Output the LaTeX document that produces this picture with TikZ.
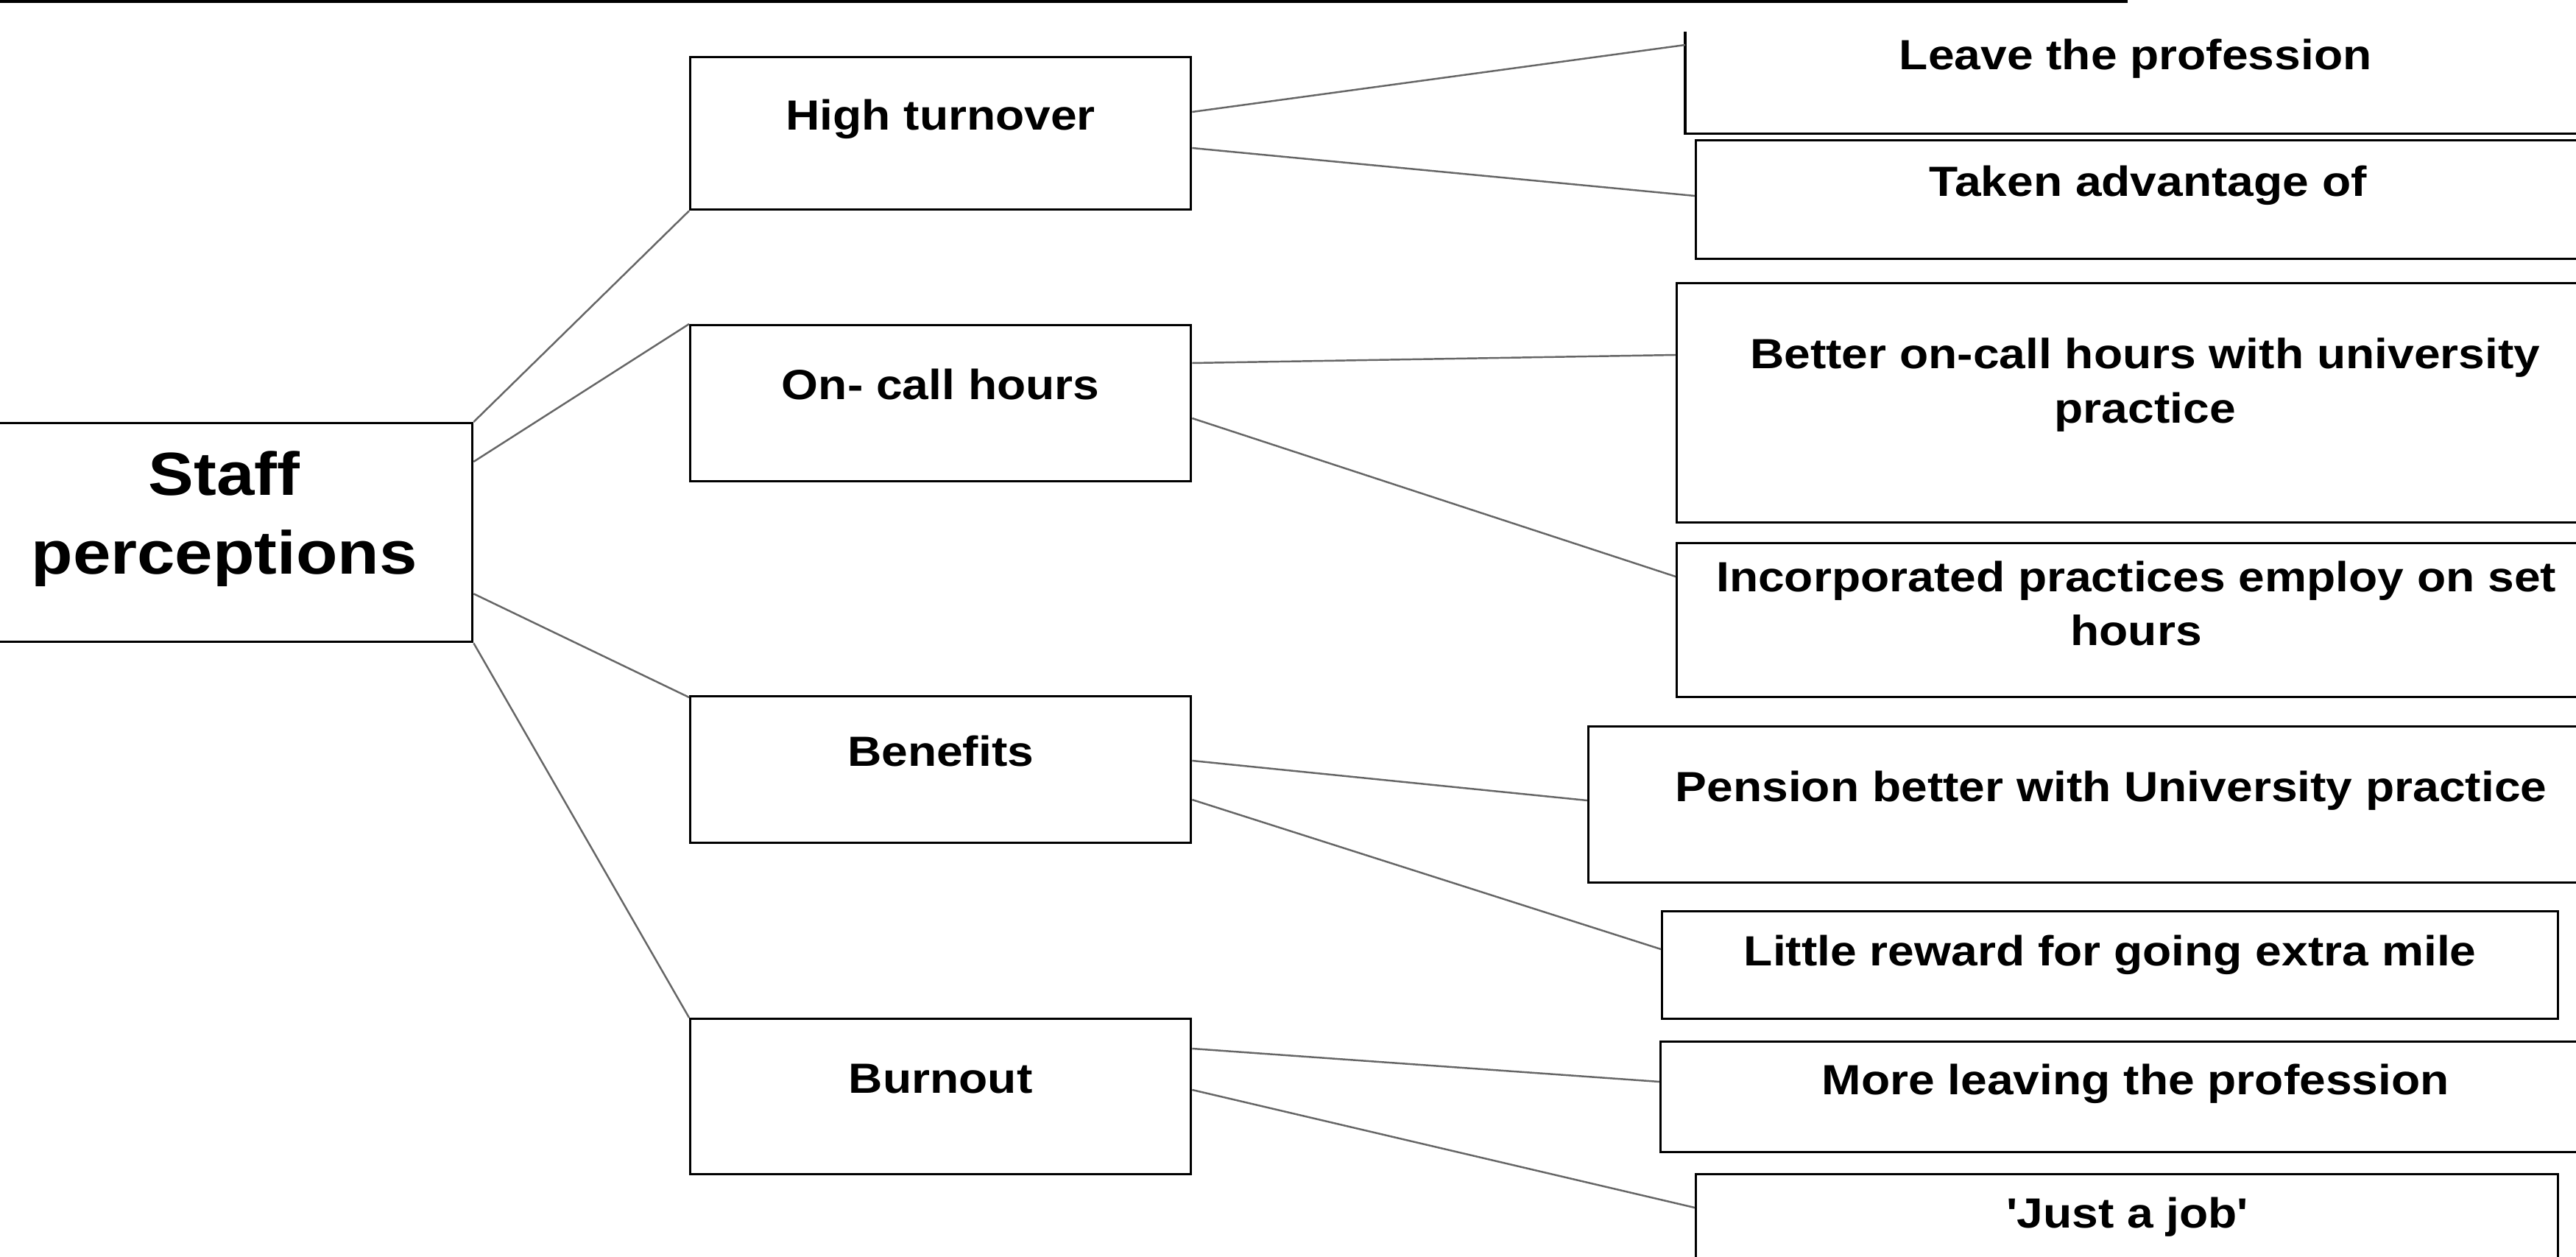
\documentclass[tikz,border=0pt]{standalone}
\usepackage{fontspec}
\setsansfont{Liberation Sans}[FakeStretch=1.12]
\definecolor{ink}{HTML}{000000}
\definecolor{wire}{HTML}{666666}

\begin{document}
\begin{tikzpicture}[
  font=\sffamily\bfseries,
  box/.style={draw=ink, line width=0.95pt, anchor=north west, inner sep=0pt},
  openbox/.style={box, draw=none},
  word/.style={text=ink, align=center, inner sep=0pt,
               font=\sffamily\bfseries\fontsize{16.3}{21}\selectfont},
  oneline/.style={word, text height=11.7pt, text depth=0pt},
  rootword/.style={word, font=\sffamily\bfseries\fontsize{23.5}{30.4}\selectfont},
  link/.style={draw=wire, line width=0.7pt}
]

% page frame
\useasboundingbox (0,0) rectangle (34.99,-17.07);
\clip (0,0) rectangle (34.99,-17.07);
\draw[draw=ink, line width=1.1pt] (0,-0.02) -- (28.90,-0.02);

% root
\node[box, minimum width=6.74cm, minimum height=2.97cm] (staff) at (-0.34,-5.73) {};
\node[rootword] (staff-t) at ([yshift=-1.32cm]staff.north) {Staff\\perceptions};

% themes
\node[box, minimum width=6.80cm, minimum height=2.07cm] (turnover) at (9.36,-0.76) {};
\node[oneline] (turnover-t) at ([yshift=-0.80cm]turnover.north) {High turnover};
\node[box, minimum width=6.80cm, minimum height=2.12cm] (oncall) at (9.36,-4.40) {};
\node[oneline] (oncall-t) at ([yshift=-0.82cm]oncall.north) {On- call hours};
\node[box, minimum width=6.80cm, minimum height=1.99cm] (benefits) at (9.36,-9.44) {};
\node[oneline] (benefits-t) at ([yshift=-0.76cm]benefits.north) {Benefits};
\node[box, minimum width=6.80cm, minimum height=2.11cm] (burnout) at (9.36,-13.82) {};
\node[oneline] (burnout-t) at ([yshift=-0.815cm]burnout.north) {Burnout};

\draw[link] (staff.north east) -- (turnover.south west);
\draw[link] ([yshift=-0.54cm]staff.north east) -- (oncall.north west);
\draw[link] ([yshift=0.67cm]staff.south east) -- ([yshift=-0.03cm]benefits.north west);
\draw[link] (staff.south east) -- (burnout.north west);

% sub-themes
\node[openbox, minimum width=12.20cm, minimum height=1.35cm] (leave) at (22.89,-0.43) {};
\draw[draw=ink, line width=0.95pt] (leave.north west) -- (leave.south west) -- (leave.south east);
\node[oneline] (leave-t) at ([yshift=-0.31cm]leave.north) {Leave the profession};
\node[box, minimum width=12.28cm, minimum height=1.61cm] (taken) at (23.02,-1.89) {};
\node[oneline] (taken-t) at ([yshift=-0.565cm]taken.north) {Taken advantage of};

\node[box, minimum width=12.72cm, minimum height=3.25cm] (better) at (22.76,-3.83) {};
\node[word] (better-t) at ([yshift=-1.40cm]better.north) {Better on-call hours with university\\practice};
\node[box, minimum width=12.48cm, minimum height=2.09cm] (incorp) at (22.76,-7.36) {};
\node[word] (incorp-t) at ([yshift=-0.835cm]incorp.north) {Incorporated practices employ on set\\hours};

\node[box, minimum width=14.20cm, minimum height=2.12cm] (pension) at (21.56,-9.85) {};
\node[oneline] (pension-t) at ([yshift=-0.83cm]pension.north) {Pension better with University practice};
\node[box, minimum width=12.17cm, minimum height=1.46cm] (little) at (22.56,-12.36) {};
\node[oneline] (little-t) at ([yshift=-0.55cm]little.north) {Little reward for going extra mile};

\node[box, minimum width=12.90cm, minimum height=1.50cm] (more) at (22.54,-14.13) {};
\node[oneline] (more-t) at ([yshift=-0.53cm]more.north) {More leaving the profession};
\node[box, minimum width=11.71cm, minimum height=2.50cm] (job) at (23.02,-15.93) {};
\node[oneline] (job-t) at ([yshift=-0.54cm]job.north) {\textquotesingle Just a job\textquotesingle};

\draw[link] ([yshift=-0.76cm]turnover.north east) -- ([yshift=-0.18cm]leave.north west);
\draw[link] ([yshift=-1.25cm]turnover.north east) -- ([yshift=-0.77cm]taken.north west);
\draw[link] ([yshift=-0.53cm]oncall.north east) -- ([yshift=-0.99cm]better.north west);
\draw[link] ([yshift=-1.28cm]oncall.north east) -- ([yshift=-0.47cm]incorp.north west);
\draw[link] ([yshift=-0.89cm]benefits.north east) -- ([yshift=-1.02cm]pension.north west);
\draw[link] ([yshift=-1.42cm]benefits.north east) -- ([yshift=-0.53cm]little.north west);
\draw[link] ([yshift=-0.42cm]burnout.north east) -- ([yshift=-0.56cm]more.north west);
\draw[link] ([yshift=-0.98cm]burnout.north east) -- ([yshift=-0.47cm]job.north west);

\end{tikzpicture}
\end{document}
